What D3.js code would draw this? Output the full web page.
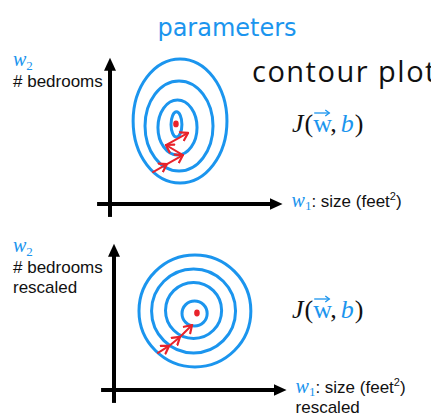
<!DOCTYPE html>
<html>
<head>
<meta charset="utf-8">
<script src="https://cdn.jsdelivr.net/npm/d3@7/dist/d3.min.js"></script>
<style>
body { margin: 0; background: #fff; }
</style>
</head>
<body>
<div id="wrapper"></div>
<script>
// contour rings of J(w,b): [centre w1, centre w2, radius w1, radius w2], parameter units
var ringsOriginal = [[4.12, 4.88, 2.76, 3.65], [4.06, 4.59, 2.0, 2.65], [3.97, 4.5, 1.15, 1.62], [3.91, 4.68, 0.32, 0.74]];
var ringsRescaled = [[4.76, 4.65, 3.29, 3.29], [4.68, 4.65, 2.47, 2.47], [4.68, 4.68, 1.65, 1.65], [4.74, 4.5, 0.74, 0.74]];
var minOriginal = [3.88, 4.71];
var minRescaled = [4.88, 4.53];
// gradient descent steps
var stepsOriginal = [[2.53, 1.88], [3.35, 2.35], [4.29, 2.88], [3.29, 3.47], [4.59, 4.18]];
var stepsRescaled = [[2.59, 2.18], [3.24, 2.59], [3.88, 3.12], [4.59, 3.82]];
var axisW1 = [-0.76, 10.15];
var axisW2 = [-0.76, 8.6];
var yLabelOriginal = ['# bedrooms'];
var yLabelRescaled = ['# bedrooms', 'rescaled'];
var xLabelRescaled = ['rescaled'];

var blue = '#1b95ee', red = '#e8232b';
var sans = '"Liberation Sans", Arial, sans-serif';
var serif = '"Liberation Serif", "DejaVu Serif", serif';

var svg = d3.select('#wrapper').append('svg')
	.attr('width', 431).attr('height', 417);

var defs = svg.append('defs');
defs.append('marker').attr('id', 'axhead')
	.attr('viewBox', '0 -6 14 12').attr('refX', 1).attr('refY', 0)
	.attr('markerWidth', 14).attr('markerHeight', 12)
	.attr('markerUnits', 'userSpaceOnUse').attr('orient', 'auto')
	.append('path').attr('d', 'M0,-6L13,0L0,6Z').attr('fill', '#000');
defs.append('marker').attr('id', 'stephead')
	.attr('viewBox', '-1 -6 10 12').attr('refX', 7).attr('refY', 0)
	.attr('markerWidth', 10).attr('markerHeight', 12)
	.attr('markerUnits', 'userSpaceOnUse').attr('orient', 'auto')
	.append('path').attr('d', 'M0,-4.5L7,0L0,4.5')
	.attr('fill', 'none').attr('stroke', red).attr('stroke-width', 2.2)
	.attr('stroke-linecap', 'round').attr('stroke-linejoin', 'round');

svg.append('text').attr('x', 227).attr('y', 36)
	.attr('text-anchor', 'middle')
	.style('font-family', '"DejaVu Sans", sans-serif').style('font-size', '24px')
	.attr('fill', blue).text('parameters');

svg.append('text').attr('x', 252).attr('y', 82)
	.style('font-family', '"Open Sans", sans-serif').style('font-weight', 400)
	.style('font-size', '29px').style('letter-spacing', '1.5px')
	.attr('fill', '#111').text('contour plot');

function panel(ox, oy, rings, minPt, steps, yLines, xLines) {
	var x = d3.scaleLinear().domain([0, 10]).range([ox, ox + 170]);
	var y = d3.scaleLinear().domain([0, 10]).range([oy, oy - 170]);
	var g = svg.append('g');

	// axes
	g.append('line')
		.attr('x1', x(axisW1[0])).attr('x2', x(axisW1[1]) - 12)
		.attr('y1', y(0)).attr('y2', y(0))
		.attr('stroke', '#000').attr('stroke-width', 4)
		.attr('marker-end', 'url(#axhead)');
	g.append('line')
		.attr('x1', x(0)).attr('x2', x(0))
		.attr('y1', y(axisW2[0])).attr('y2', y(axisW2[1]) + 12)
		.attr('stroke', '#000').attr('stroke-width', 4)
		.attr('marker-end', 'url(#axhead)');

	g.selectAll('ellipse.ring').data(rings).enter().append('ellipse')
		.attr('class', 'ring')
		.attr('cx', function(d) { return x(d[0]); })
		.attr('cy', function(d) { return y(d[1]); })
		.attr('rx', function(d) { return x(d[2]) - x(0); })
		.attr('ry', function(d) { return y(0) - y(d[3]); })
		.attr('fill', 'none').attr('stroke', blue).attr('stroke-width', 3);

	g.append('ellipse')
		.attr('cx', x(minPt[0])).attr('cy', y(minPt[1]))
		.attr('rx', 2.8).attr('ry', 3.4).attr('fill', red);

	var segs = d3.pairs(steps);
	g.selectAll('line.step').data(segs).enter().append('line')
		.attr('class', 'step')
		.attr('x1', function(d) { return x(d[0][0]); })
		.attr('y1', function(d) { return y(d[0][1]); })
		.attr('x2', function(d) { return x(d[1][0]); })
		.attr('y2', function(d) { return y(d[1][1]); })
		.attr('stroke', red).attr('stroke-width', 2)
		.attr('stroke-linecap', 'round')
		.attr('marker-end', 'url(#stephead)');

	// w2 label
	var w2 = g.append('text').attr('x', 13).attr('y', oy - 138)
		.style('font-family', serif).attr('fill', blue);
	w2.append('tspan').text('w').style('font-style', 'italic').style('font-size', '20px');
	w2.append('tspan').text('2').style('font-size', '13px').attr('dy', 4);
	g.selectAll('text.ylab').data(yLines).enter().append('text')
		.attr('class', 'ylab')
		.attr('x', 13).attr('y', function(d, i) { return oy - 117 + i * 20; })
		.style('font-family', sans).style('font-size', '17px')
		.attr('fill', '#111').text(function(d) { return d; });

	// w1 label
	var lx = x(axisW1[1]) + 9, ly = y(0) + 3;
	var w1 = g.append('text').attr('x', lx).attr('y', ly).attr('fill', '#111');
	w1.append('tspan').text('w').style('font-family', serif).style('font-style', 'italic')
		.style('font-size', '20px').attr('fill', blue);
	w1.append('tspan').text('1').style('font-family', serif).style('font-size', '13px')
		.attr('fill', blue).attr('dy', 3);
	w1.append('tspan').text(': size (feet').style('font-family', sans).style('font-size', '17px').attr('dy', -3);
	w1.append('tspan').text('2').style('font-family', sans).style('font-size', '11px').attr('dy', -7);
	w1.append('tspan').text(')').style('font-family', sans).style('font-size', '17px').attr('dy', 7);
	g.selectAll('text.xlab').data(xLines).enter().append('text')
		.attr('class', 'xlab')
		.attr('x', lx).attr('y', function(d, i) { return ly + 20 + i * 20; })
		.style('font-family', sans).style('font-size', '17px')
		.attr('fill', '#111').text(function(d) { return d; });

	// J(w, b)
	var jx = 292, jy = oy - 72;
	var t = g.append('text').attr('x', jx).attr('y', jy)
		.style('font-family', serif).style('font-size', '26px').attr('fill', '#111');
	t.append('tspan').text('J').style('font-style', 'italic');
	t.append('tspan').text('(').attr('dx', 1);
	t.append('tspan').text('w').attr('fill', blue);
	t.append('tspan').text(',');
	t.append('tspan').text('b').attr('dx', 4).style('font-style', 'italic').attr('fill', blue);
	t.append('tspan').text(')').attr('dx', 1);
	var e = t.node().getExtentOfChar(2);
	var ay = jy - 19;
	g.append('line').attr('x1', e.x + 1).attr('x2', e.x + e.width - 1)
		.attr('y1', ay).attr('y2', ay).attr('stroke', blue).attr('stroke-width', 1.3);
	g.append('path')
		.attr('d', 'M' + (e.x + e.width - 5) + ',' + (ay - 3) + 'L' + (e.x + e.width - 1) + ',' + ay + 'L' + (e.x + e.width - 5) + ',' + (ay + 3))
		.attr('fill', 'none').attr('stroke', blue).attr('stroke-width', 1.3);
}

panel(110, 204, ringsOriginal, minOriginal, stepsOriginal, yLabelOriginal, []);
panel(114, 390, ringsRescaled, minRescaled, stepsRescaled, yLabelRescaled, xLabelRescaled);
</script>
</body>
</html>
